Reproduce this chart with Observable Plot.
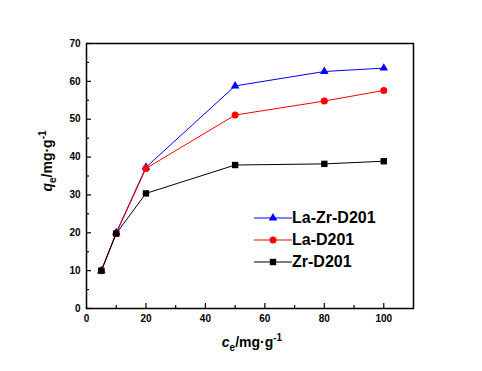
<!DOCTYPE html>
<html><head><meta charset="utf-8">
<script src="https://cdn.jsdelivr.net/npm/d3@7"></script>
<script src="https://cdn.jsdelivr.net/npm/@observablehq/plot@0.6"></script>
<style>
body{margin:0;background:#fff;}
#wrap{position:relative;width:482px;height:371px;font-family:"Liberation Sans",Arial,sans-serif;}
#legend{position:absolute;left:254px;top:207px;font-weight:bold;font-size:16px;line-height:22px;}
#legend div{display:flex;align-items:center;height:22px;}
</style>
</head><body>
<div id="wrap"><div id="legend"></div></div>
<script>
const ce = [5, 10, 20, 50, 80, 100];
const laZr = [10, 20, 37.3, 58.8, 62.6, 63.5];
const la = [10, 19.8, 37.0, 51.1, 54.8, 57.6];
const zr = [10, 19.8, 30.4, 37.9, 38.2, 38.9];
const seriesNames = ["La-Zr-D201", "La-D201", "Zr-D201"];
const seriesColors = ["#0000ff", "#ff0000", "#000000"];
const seriesSymbols = ["triangle", "circle", "square"];
const seriesR = [3.2, 3.5, 3.6];
const xTicks = [0, 20, 40, 60, 80, 100];
const yTicks = [0, 10, 20, 30, 40, 50, 60, 70];

const seriesVals = [laZr, la, zr];
const data = seriesVals.flatMap((vals, i) => vals.map((v, j) => ({x: ce[j], y: v, s: seriesNames[i]})));

const marks = [];
seriesNames.forEach((name, i) => {
  const d = data.filter(e => e.s === name);
  marks.push(Plot.line(d, {x: "x", y: "y", stroke: seriesColors[i], strokeWidth: 1}));
});
seriesNames.forEach((name, i) => {
  const d = data.filter(e => e.s === name);
  marks.push(Plot.dot(d, {x: "x", y: "y", symbol: () => seriesSymbols[i], fill: seriesColors[i], stroke: "none", r: seriesR[i]}));
});

const fontStyle = {fontSize: 10, fontWeight: "bold", fontFamily: "Liberation Sans, Arial, sans-serif"};

const plot = Plot.plot({
  width: 482, height: 371,
  marginLeft: 86, marginRight: 69, marginTop: 43, marginBottom: 63,
  style: {background: "#fff", fontFamily: "Liberation Sans, Arial, sans-serif", overflow: "visible"},
  x: {domain: [0, 110], label: null},
  y: {domain: [0, 70], label: null},
  marks: [
    ...marks,
    Plot.frame({stroke: "#000", strokeWidth: 1.5}),
    Plot.axisX(xTicks, {tickSize: 0, tickPadding: 6, ...fontStyle, fill: "#000"}),
    Plot.axisX(xTicks, {tickSize: -5, text: null, stroke: "#000", strokeWidth: 1.2}),
    Plot.axisX(d3.range(10, 110, 20), {tickSize: -3, text: null, stroke: "#000", strokeWidth: 1.2}),
    Plot.axisY(yTicks, {tickSize: 0, tickPadding: 6, ...fontStyle, fill: "#000"}),
    Plot.axisY(yTicks, {tickSize: -5, text: null, stroke: "#000", strokeWidth: 1.2}),
    Plot.axisY(d3.range(5, 70, 10), {tickSize: -3, text: null, stroke: "#000", strokeWidth: 1.2})
  ]
});
const wrap = document.getElementById("wrap");
wrap.insertBefore(plot, wrap.firstChild);

const svg = d3.select(plot);
// x title
const xt = svg.append("text").attr("x", 252).attr("y", 347).attr("text-anchor", "middle")
  .attr("font-size", 14).attr("font-weight", "bold").attr("fill", "#000");
xt.append("tspan").attr("font-style", "italic").text("c");
xt.append("tspan").attr("font-size", 10).attr("dy", 4).text("e");
xt.append("tspan").attr("dy", -4).text("/mg·g");
xt.append("tspan").attr("font-size", 10).attr("dy", -6).text("-1");
// y title
const yt = svg.append("text").attr("transform", "translate(52,161) rotate(-90)").attr("text-anchor", "middle")
  .attr("font-size", 14).attr("font-weight", "bold").attr("fill", "#000");
yt.append("tspan").attr("font-style", "italic").text("q");
yt.append("tspan").attr("font-size", 10).attr("dy", 4).text("e");
yt.append("tspan").attr("dy", -4).text("/mg·g");
yt.append("tspan").attr("font-size", 10).attr("dy", -6).text("-1");

// legend
const symbolTypes = {triangle: d3.symbolTriangle, circle: d3.symbolCircle, square: d3.symbolSquare};
const leg = d3.select("#legend");
seriesNames.forEach((name, i) => {
  const row = leg.append("div");
  const s = row.append("svg").attr("width", 38).attr("height", 12);
  s.append("line").attr("x1", 0).attr("x2", 38).attr("y1", 6).attr("y2", 6).attr("stroke", seriesColors[i]).attr("stroke-width", 1);
  s.append("path").attr("transform", "translate(19,6)")
    .attr("d", d3.symbol(symbolTypes[seriesSymbols[i]], Math.PI * seriesR[i] ** 2)())
    .attr("fill", seriesColors[i]);
  row.append("span").text(name);
});
</script>
</body></html>
